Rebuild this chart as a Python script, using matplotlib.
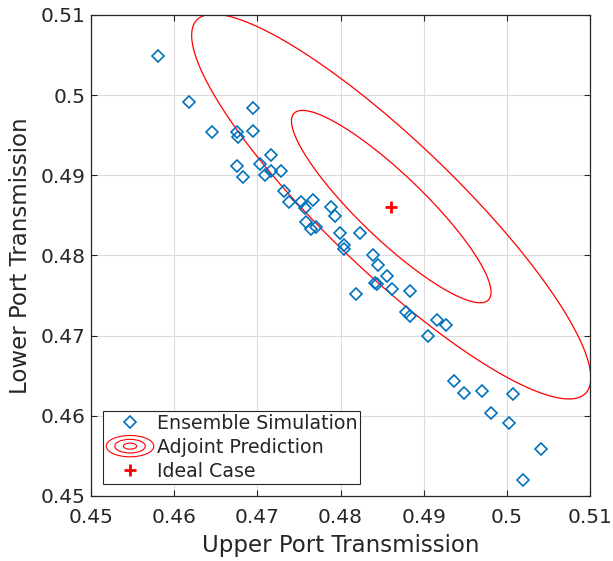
import numpy as np
import matplotlib
matplotlib.use('Agg')
import matplotlib.pyplot as plt
from matplotlib.legend_handler import HandlerBase
from matplotlib.patches import Ellipse
from matplotlib.lines import Line2D

# ensemble simulation results (upper, lower port transmission)
upper = [0.4581, 0.4618, 0.4646, 0.4676, 0.4677, 0.4695, 0.4695, 0.4676, 0.4683,
         0.4716, 0.4703, 0.4709, 0.4717, 0.4728, 0.4732, 0.4738, 0.4752, 0.4757,
         0.4767, 0.4759, 0.4765, 0.4771, 0.4789, 0.4793, 0.4799, 0.4804, 0.4804,
         0.4823, 0.4839, 0.4845, 0.4856, 0.4841, 0.4844, 0.4819, 0.4862, 0.4883,
         0.4879, 0.4883, 0.4905, 0.4916, 0.4927, 0.4936, 0.4948, 0.4970, 0.5007,
         0.4981, 0.5003, 0.5041, 0.5019]
lower = [0.5049, 0.4992, 0.4954, 0.4954, 0.4948, 0.4984, 0.4955, 0.4912, 0.4898,
         0.4925, 0.4914, 0.4900, 0.4905, 0.4905, 0.4880, 0.4867, 0.4867, 0.4859,
         0.4869, 0.4842, 0.4833, 0.4835, 0.4861, 0.4849, 0.4828, 0.4813, 0.4808,
         0.4828, 0.4801, 0.4788, 0.4774, 0.4766, 0.4764, 0.4752, 0.4758, 0.4756,
         0.4730, 0.4725, 0.4699, 0.4720, 0.4713, 0.4644, 0.4629, 0.4631, 0.4627,
         0.4604, 0.4591, 0.4558, 0.4520]

# ideal case and adjoint prediction (gaussian, 1 and 2 sigma contours)
ideal = (0.4861, 0.4861)
sigma = 0.012
rho = -0.89
sigma_levels = [1, 2]

ticks = [0.45, 0.46, 0.47, 0.48, 0.49, 0.5, 0.51]
tick_labels = ['0.45', '0.46', '0.47', '0.48', '0.49', '0.5', '0.51']

axcol = '#262626'
blue = '#0072BD'


class ContourHandler(HandlerBase):
    # three nested ellipses, like the matlab contour legend icon
    def create_artists(self, legend, orig_handle, xdescent, ydescent,
                       width, height, fontsize, trans):
        cx = width / 2 - xdescent
        cy = height / 2 - ydescent
        arts = []
        for f in [1.0, 0.64, 0.28]:
            e = Ellipse((cx, cy), width * f, height * 1.6 * f, fill=False,
                        edgecolor='red', lw=0.8, transform=trans)
            arts.append(e)
        return arts


fig = plt.figure(figsize=(6.13, 5.61), dpi=100)
ax = fig.add_axes([0.1485, 0.1159, 0.814, 0.8574])

gx = np.linspace(0.44, 0.52, 400)
gy = np.linspace(0.44, 0.52, 400)
X, Y = np.meshgrid(gx, gy)
dx = (X - ideal[0]) / sigma
dy = (Y - ideal[1]) / sigma
Q = (dx**2 - 2 * rho * dx * dy + dy**2) / (1 - rho**2)
ax.contour(X, Y, Q, levels=[s**2 for s in sigma_levels], colors='red', linewidths=0.9)

ax.plot(upper, lower, 'D', ls='none', mfc='none', mec=blue, ms=6, mew=1.2, zorder=3)
ax.plot(ideal[0], ideal[1], '+', color='red', ms=9, mew=2, zorder=4)

ax.set_xlim(0.45, 0.51)
ax.set_ylim(0.45, 0.51)
ax.set_xticks(ticks)
ax.set_xticklabels(tick_labels)
ax.set_yticks(ticks)
ax.set_yticklabels(tick_labels)
ax.grid(True, color='#dcdcdc', lw=0.8)
ax.set_axisbelow(True)
ax.tick_params(direction='in', top=True, right=True, labelsize=14.5, colors=axcol,
               length=4, width=0.8, pad=4)
ax.tick_params(axis='x', pad=9)
for sp in ax.spines.values():
    sp.set_color(axcol)
    sp.set_linewidth(0.9)

ax.set_xlabel('Upper Port Transmission', fontsize=16.5, color=axcol, labelpad=5)
ax.set_ylabel('Lower Port Transmission', fontsize=16.5, color=axcol, labelpad=6)

h1 = Line2D([], [], marker='D', ls='none', mfc='none', mec=blue, ms=6, mew=1.2)
h2 = object()
h3 = Line2D([], [], marker='+', ls='none', color='red', ms=9, mew=2)
leg = ax.legend([h1, h2, h3], ['Ensemble Simulation', 'Adjoint Prediction', 'Ideal Case'],
                handler_map={object: ContourHandler()}, loc='lower left',
                fontsize=13.7, fancybox=False, edgecolor=axcol, framealpha=1,
                borderaxespad=0.65, handlelength=2.5, handletextpad=0.15,
                labelspacing=0.26, borderpad=0.15)
leg.get_frame().set_linewidth(0.8)
for t in leg.get_texts():
    t.set_color(axcol)

fig.savefig('out.png', dpi=100)
